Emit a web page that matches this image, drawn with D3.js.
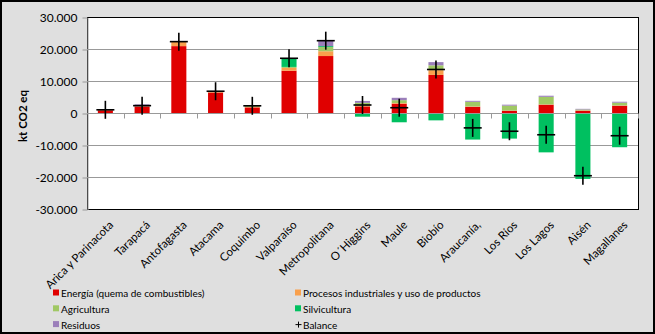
<!DOCTYPE html>
<html>
<head>
<meta charset="utf-8">
<script src="https://cdn.jsdelivr.net/npm/d3@7"></script>
<style>
  body { margin: 0; background: #fff; }
  svg { display: block; font-family: Lato, 'Noto Sans', sans-serif; }
</style>
</head>
<body>
<div id="root"></div>
<script>
const regions = ['Arica y Parinacota', 'Tarapacá', 'Antofagasta', 'Atacama', 'Coquimbo', 'Valparaíso',
  'Metropolitana', 'O´Higgins', 'Maule', 'Biobío', 'Araucanía,', 'Los Ríos', 'Los Lagos', 'Aisén', 'Magallanes'];

const energia = [850, 2050, 20900, 6400, 1750, 13200, 17800, 2070, 2900, 11900, 1950, 700, 2600, 700, 2270];
const procesos = [50, 50, 1300, 400, 150, 900, 1500, 150, 200, 1500, 100, 50, 100, 100, 100];
const agricultura = [50, 50, 100, 50, 300, 300, 1300, 950, 900, 1500, 1450, 1550, 2350, 300, 850];
const silvicultura = [0, 0, 0, 0, 0, 2700, 300, -1150, -2900, -2300, -8300, -8000, -12300, -20600, -10700];
const residuos = [50, 550, 100, 50, 50, 0, 1700, 600, 750, 1000, 300, 300, 350, 200, 300];
const balance = [1000, 2300, 22300, 6800, 2250, 17100, 22600, 2500, 1650, 13600, -4650, -5700, -6800, -19600, -7100];

const seriesNames = ['Energía (quema de combustibles)', 'Procesos industriales y uso de productos',
  'Agricultura', 'Silvicultura', 'Residuos'];
const seriesColors = ['#e00000', '#f9a04c', '#a0c864', '#00c060', '#9b7fba'];
const yTicks = [-30000, -20000, -10000, 0, 10000, 20000, 30000];

const width = 655;
const height = 334;
const plot = { left: 87, right: 638, top: 17, bottom: 209 };

const svg = d3.select('#root').append('svg')
  .attr('width', width)
  .attr('height', height);

svg.append('rect')
  .attr('x', 1).attr('y', 1)
  .attr('width', width - 2).attr('height', height - 2)
  .attr('fill', '#dfdfdf')
  .attr('stroke', '#000')
  .attr('stroke-width', 2);

svg.append('rect')
  .attr('x', plot.left + 0.5).attr('y', plot.top + 0.5)
  .attr('width', plot.right - plot.left).attr('height', plot.bottom - plot.top)
  .attr('fill', '#fff')
  .attr('stroke', '#000')
  .attr('stroke-width', 1);

const rows = regions.map((r, i) => ({
  region: r,
  [seriesNames[0]]: energia[i],
  [seriesNames[1]]: procesos[i],
  [seriesNames[2]]: agricultura[i],
  [seriesNames[3]]: silvicultura[i],
  [seriesNames[4]]: residuos[i],
}));

const slot = d3.scaleBand()
  .domain(regions)
  .range([plot.left, plot.right]);

const xScale = d3.scaleBand()
  .domain(regions)
  .range([plot.left, plot.right])
  .paddingInner(0.59)
  .paddingOuter(0.295);

const yScale = d3.scaleLinear()
  .domain([-30000, 30000])
  .range([plot.bottom, plot.top]);

const esFormat = d3.formatLocale({ decimal: ',', thousands: '.', grouping: [3], currency: ['', ''], minus: '-' }).format(',');

// gridlines
svg.append('g')
  .selectAll('line')
  .data(yTicks.filter(d => d !== 30000 && d !== -30000 && d !== 0))
  .enter()
  .append('line')
  .attr('x1', plot.left)
  .attr('x2', plot.right)
  .attr('y1', d => Math.round(yScale(d)) + 0.5)
  .attr('y2', d => Math.round(yScale(d)) + 0.5)
  .attr('stroke', '#999')
  .attr('stroke-width', 1);

// y axis
const yAxis = d3.axisLeft(yScale)
  .tickValues(yTicks)
  .tickFormat(esFormat)
  .tickSize(5)
  .tickPadding(5)
  .tickSizeOuter(0);

svg.append('g')
  .attr('transform', `translate(${plot.left + 0.5}, 0.5)`)
  .call(yAxis)
  .call(g => g.select('.domain').attr('stroke', '#999'))
  .call(g => g.selectAll('.tick line').attr('stroke', '#999'))
  .call(g => g.selectAll('.tick text').attr('fill', '#000').style('font-size', '12px').style('font-family', 'Lato'));

svg.append('text')
  .attr('transform', `translate(27, ${yScale(0) + 3}) rotate(-90)`)
  .attr('text-anchor', 'middle')
  .style('font-size', '11.5px')
  .style('font-weight', 'bold')
  .text('kt CO2 eq');

// stacked bars
const stack = d3.stack()
  .keys(seriesNames)
  .offset(d3.stackOffsetDiverging);

const stacked = stack(rows);

svg.append('g')
  .selectAll('g')
  .data(stacked)
  .enter()
  .append('g')
  .attr('fill', (d, i) => seriesColors[i])
  .selectAll('rect')
  .data(d => d)
  .enter()
  .append('rect')
  .attr('x', d => xScale(d.data.region))
  .attr('y', d => yScale(d[1]))
  .attr('width', xScale.bandwidth())
  .attr('height', d => Math.max(0, yScale(d[0]) - yScale(d[1])));

// zero axis with category ticks
const zeroY = Math.round(yScale(0)) + 0.5;
svg.append('line')
  .attr('x1', plot.left).attr('x2', plot.right)
  .attr('y1', zeroY).attr('y2', zeroY)
  .attr('stroke', '#999');

svg.append('g')
  .selectAll('line')
  .data(regions.slice(1).concat(['__end']))
  .enter()
  .append('line')
  .attr('x1', d => d === '__end' ? plot.right + 0.5 : Math.round(slot(d)) + 0.5)
  .attr('x2', d => d === '__end' ? plot.right + 0.5 : Math.round(slot(d)) + 0.5)
  .attr('y1', zeroY)
  .attr('y2', zeroY + 5)
  .attr('stroke', '#999');

// balance markers
const marker = svg.append('g')
  .selectAll('g')
  .data(regions)
  .enter()
  .append('g')
  .attr('transform', (d, i) => `translate(${xScale(d) + xScale.bandwidth() / 2}, ${yScale(balance[i])})`);

marker.append('line')
  .attr('x1', -9).attr('x2', 9)
  .attr('stroke', '#000').attr('stroke-width', 1.6);
marker.append('line')
  .attr('y1', -9).attr('y2', 9)
  .attr('stroke', '#000').attr('stroke-width', 1.6);

// x labels
svg.append('g')
  .selectAll('text')
  .data(regions)
  .enter()
  .append('text')
  .attr('transform', d => `translate(${slot(d) + slot.bandwidth() / 2 + 3}, ${plot.bottom + 11}) rotate(-45)`)
  .attr('text-anchor', 'end')
  .attr('dy', '0.7em')
  .style('font-size', '11.5px')
  .text(d => d);

// legend
const legendItems = [
  { name: seriesNames[0], color: seriesColors[0], x: 53, row: 0 },
  { name: seriesNames[1], color: seriesColors[1], x: 295, row: 0 },
  { name: seriesNames[2], color: seriesColors[2], x: 53, row: 1 },
  { name: seriesNames[3], color: seriesColors[3], x: 295, row: 1 },
  { name: seriesNames[4], color: seriesColors[4], x: 53, row: 2 },
  { name: 'Balance', color: null, x: 295, row: 2 },
];

const legend = svg.append('g')
  .selectAll('g')
  .data(legendItems)
  .enter()
  .append('g')
  .attr('transform', d => `translate(${d.x}, ${289.5 + d.row * 15.8})`);

legend.filter(d => d.color)
  .append('rect')
  .attr('width', 6)
  .attr('height', 6)
  .attr('fill', d => d.color);

legend.filter(d => !d.color)
  .append('path')
  .attr('d', 'M0.5,3.5H6.5M3.5,0.5V6.5')
  .attr('stroke', '#000')
  .attr('stroke-width', 1);

legend.append('text')
  .attr('x', 8)
  .attr('y', 7.5)
  .style('font-size', '10px')
  .text(d => d.name);
</script>
</body>
</html>
